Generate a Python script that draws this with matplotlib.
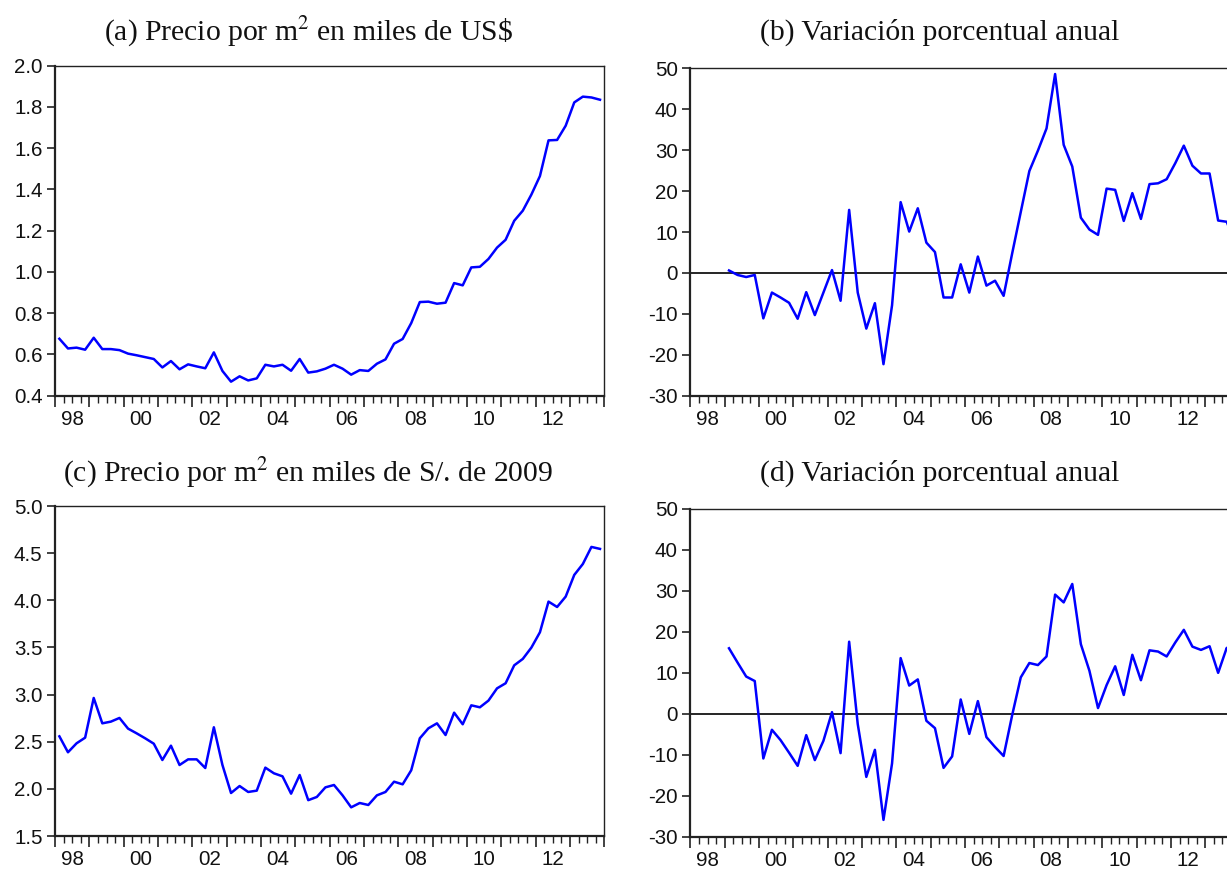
import numpy as np
import pandas as pd
import matplotlib
matplotlib.use('Agg')
import matplotlib.pyplot as plt
from matplotlib.ticker import FormatStrFormatter

plt.rcParams['font.family'] = ['Liberation Sans', 'DejaVu Sans']
plt.rcParams['axes.unicode_minus'] = False
plt.rcParams['mathtext.fontset'] = 'stix'

# trimestres 1998Q1 - 2013Q4
trimestres = pd.period_range('1998Q1', '2013Q4', freq='Q')
x = trimestres.year + (trimestres.quarter - 0.5) / 4.0

# (a) precio por m2, miles de US$
precio_usd = [0.676, 0.629, 0.633, 0.623, 0.681, 0.626, 0.626, 0.621, 0.604, 0.596,
              0.587, 0.578, 0.537, 0.568, 0.528, 0.552, 0.542, 0.533, 0.610, 0.520,
              0.468, 0.494, 0.474, 0.484, 0.550, 0.542, 0.550, 0.521, 0.578, 0.512,
              0.518, 0.531, 0.550, 0.531, 0.502, 0.524, 0.520, 0.555, 0.576, 0.652,
              0.675, 0.752, 0.854, 0.856, 0.846, 0.851, 0.946, 0.935, 1.022, 1.025,
              1.063, 1.118, 1.156, 1.248, 1.297, 1.375, 1.465, 1.638, 1.640, 1.709,
              1.822, 1.850, 1.846, 1.835]

# (b) variacion % anual (desde 1999Q1)
var_usd = [0.6, -0.5, -1.0, -0.5, -11.1, -4.8, -6.0, -7.3, -11.2, -4.7,
           -10.3, -4.8, 0.7, -6.8, 15.4, -4.8, -13.6, -7.4, -22.3, -7.9,
           17.3, 10.1, 15.8, 7.4, 5.1, -6.0, -6.0, 2.1, -4.8, 4.0,
           -3.1, -1.9, -5.6, 4.8, 14.9, 24.9, 29.9, 35.3, 48.6, 31.3,
           26.0, 13.5, 10.6, 9.3, 20.6, 20.3, 12.7, 19.5, 13.2, 21.7,
           21.9, 22.9, 26.8, 31.1, 26.2, 24.3, 24.3, 12.8, 12.5, 7.2]

# (c) precio por m2, miles de S/. de 2009
precio_soles = [2.557, 2.388, 2.483, 2.543, 2.964, 2.695, 2.713, 2.752, 2.639, 2.589,
                2.536, 2.479, 2.306, 2.458, 2.253, 2.313, 2.313, 2.221, 2.653, 2.253,
                1.956, 2.030, 1.967, 1.981, 2.225, 2.165, 2.133, 1.949, 2.147, 1.880,
                1.914, 2.016, 2.041, 1.931, 1.804, 1.850, 1.829, 1.931, 1.967, 2.076,
                2.048, 2.197, 2.536, 2.642, 2.695, 2.571, 2.808, 2.685, 2.886, 2.865,
                2.936, 3.066, 3.120, 3.310, 3.378, 3.498, 3.661, 3.986, 3.929, 4.039,
                4.269, 4.385, 4.566, 4.545]

# (d) variacion % anual (desde 1999Q1)
var_soles = [16.0, 12.5, 9.1, 8.0, -10.9, -3.9, -6.4, -9.5, -12.7, -5.2,
             -11.3, -6.6, 0.4, -9.6, 17.6, -2.5, -15.4, -8.8, -25.9, -12.1,
             13.6, 6.9, 8.4, -1.7, -3.5, -13.2, -10.4, 3.5, -4.9, 3.1,
             -5.7, -8.1, -10.3, -0.3, 8.9, 12.4, 11.9, 14.0, 29.1, 27.2,
             31.7, 17.0, 10.5, 1.4, 7.0, 11.6, 4.6, 14.4, 8.2, 15.5,
             15.2, 14.0, 17.4, 20.5, 16.4, 15.6, 16.5, 10.0, 16.1, 12.5]

titulos = [r'(a) Precio por m$^2$ en miles de US\$',
           '(b) Variación porcentual anual',
           r'(c) Precio por m$^2$ en miles de S/. de 2009',
           '(d) Variación porcentual anual']

W, H = 1227, 869
fig = plt.figure(figsize=(W / 100, H / 100), dpi=100)


def px_axes(left, top, right, bottom):
    return fig.add_axes([left / W, 1 - bottom / H, (right - left) / W, (bottom - top) / H])


def estilo(ax, ylim, yticks, fmt):
    ax.set_xlim(1998, 2014)
    ax.set_ylim(*ylim)
    ax.set_yticks(yticks)
    ax.yaxis.set_major_formatter(FormatStrFormatter(fmt))
    ax.set_xticks(np.arange(1998, 2015))
    ax.set_xticklabels([])
    ax.set_xticks(np.arange(1998, 2014.01, 0.25), minor=True)
    ax.tick_params(axis='x', which='major', length=8, width=1.2, direction='out', color='#222')
    ax.tick_params(axis='x', which='minor', length=5, width=1.0, direction='out', color='#222')
    ax.tick_params(axis='y', which='major', length=6, width=1.2, direction='out', pad=3,
                   labelsize=14.8, color='#222', labelcolor='#111')
    for s in ['left', 'bottom']:
        ax.spines[s].set_linewidth(1.6)
        ax.spines[s].set_color('#222')
    for s in ['top', 'right']:
        ax.spines[s].set_linewidth(1.0)
        ax.spines[s].set_color('#222')
    sec = ax.secondary_xaxis('bottom')
    anios = np.arange(1998, 2014, 2)
    sec.set_xticks(anios + 0.5, labels=[f'{a % 100:02d}' for a in anios])
    sec.tick_params(length=0, pad=10, labelsize=14.8, labelcolor='#111')
    sec.spines['bottom'].set_visible(False)


ax_a = px_axes(55.1, 65.7, 604.3, 395.7)
ax_a.plot(x, precio_usd, color='#0000ff', lw=1.8)
estilo(ax_a, (0.4, 2.0), np.arange(0.4, 2.01, 0.2), '%.1f')

ax_b = px_axes(690.4, 68.3, 1239.6, 395.7)
ax_b.axhline(0, color='black', lw=1.2)
ax_b.plot(x[4:], var_usd, color='#0000ff', lw=1.8)
estilo(ax_b, (-30, 50), np.arange(-30, 51, 10), '%d')

ax_c = px_axes(55.1, 506, 604.3, 836)
ax_c.plot(x, precio_soles, color='#0000ff', lw=1.8)
estilo(ax_c, (1.5, 5.0), np.arange(1.5, 5.01, 0.5), '%.1f')

ax_d = px_axes(690.4, 509, 1239.6, 836.7)
ax_d.axhline(0, color='black', lw=1.2)
ax_d.plot(x[4:], var_soles, color='#0000ff', lw=1.8)
estilo(ax_d, (-30, 50), np.arange(-30, 51, 10), '%d')

for (cx, cy), t in zip([(308, 32), (940, 32), (308, 473), (940, 473)], titulos):
    fig.text(cx / W, 1 - cy / H, t, ha='center', va='center', fontsize=21.3,
             family='Liberation Serif', color='#111')

fig.savefig('out.png', dpi=100)
